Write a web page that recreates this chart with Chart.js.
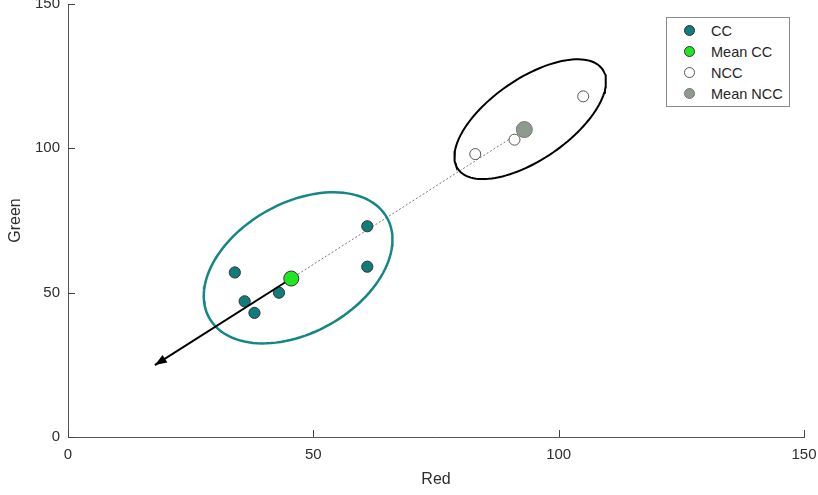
<!DOCTYPE html>
<html>
<head>
<meta charset="utf-8">
<script src="https://cdn.jsdelivr.net/npm/chart.js@4.4.1/dist/chart.umd.min.js"></script>
<style>
    html, body { margin: 0; padding: 0; background: #fff; }
    #wrap { position: relative; width: 818px; height: 495px; }
    #legend {
        position: absolute; left: 666px; top: 17px; width: 122px; height: 88px;
        border: 1px solid #8a8a8a; background: #fff;
        font-family: 'Liberation Sans', Arial, sans-serif; font-size: 14.5px; color: #262626;
    }
    #legend .row { position: absolute; left: 0; height: 20px; line-height: 20px; }
    #legend .dot { position: absolute; left: 17px; top: 4px; width: 11px; height: 11px; border-radius: 50%; box-sizing: border-box; border: 1px solid #333; }
    #legend .txt { position: absolute; left: 44px; white-space: nowrap; }
</style>
</head>
<body>
<div id="wrap">
    <canvas id="chart" width="818" height="495"></canvas>
    <div id="legend"></div>
</div>
<script>
// Data (Red / Green values)
const ccRed = [34, 36, 38, 43, 61, 61];
const ccGreen = [57, 47, 43, 50, 73, 59];
const nccRed = [83, 91, 105];
const nccGreen = [98, 103, 118];
const meanCC = [45.5, 54.9];
const meanNCC = [93, 106.5];
const arrowTip = [17.7, 24.9];

// ellipses: centre x, centre y, semi-axis a, semi-axis b, angle (deg), in data units
const ccEllipse = [46.9, 58.6, 27.8, 16.8, 65];
const nccEllipse = [94.2, 110.1, 23.6, 10.6, 57.8];

const axisTicks = [0, 50, 100, 150];
const legendLabels = ['CC', 'Mean CC', 'NCC', 'Mean NCC'];
const legendColors = ['#107c7c', '#22e622', '#ffffff', '#8e9a8e'];

const textColor = '#2e2e2e';
const fontFamily = "'Liberation Sans', Arial, sans-serif";

function toPoints(xs, ys) {
    return xs.map((x, i) => ({ x: x, y: ys[i] }));
}

function ellipsePoints(e) {
    const [cx, cy, a, b, deg] = e;
    const th = deg * Math.PI / 180;
    const pts = [];
    for (let i = 0; i <= 120; i++) {
        const t = i / 120 * 2 * Math.PI;
        pts.push({
            x: cx + a * Math.cos(t) * Math.cos(th) - b * Math.sin(t) * Math.sin(th),
            y: cy + a * Math.cos(t) * Math.sin(th) + b * Math.sin(t) * Math.cos(th)
        });
    }
    return pts;
}

// inward tick marks on both axes
const innerTicks = {
    id: 'innerTicks',
    afterDraw(chart) {
        const ctx = chart.ctx;
        const xs = chart.scales.x, ys = chart.scales.y;
        const area = chart.chartArea;
        ctx.save();
        ctx.strokeStyle = '#444';
        ctx.lineWidth = 1;
        ctx.beginPath();
        axisTicks.forEach(v => {
            const px = Math.round(xs.getPixelForValue(v)) + 0.5;
            ctx.moveTo(px, area.bottom);
            ctx.lineTo(px, area.bottom - 7);
            const py = Math.round(ys.getPixelForValue(v)) + 0.5;
            ctx.moveTo(area.left, py);
            ctx.lineTo(area.left + 7, py);
        });
        ctx.stroke();
        ctx.restore();
    }
};

// arrow head at the end of the arrow dataset
const arrowHead = {
    id: 'arrowHead',
    afterDatasetDraw(chart, args) {
        if (chart.data.datasets[args.index].label !== 'arrow') return;
        const pts = args.meta.data;
        const p0 = pts[0], p1 = pts[1];
        const ang = Math.atan2(p1.y - p0.y, p1.x - p0.x);
        const len = 12, half = 4.5;
        const ctx = chart.ctx;
        ctx.save();
        ctx.translate(p1.x, p1.y);
        ctx.rotate(ang);
        ctx.fillStyle = '#000';
        ctx.beginPath();
        ctx.moveTo(0, 0);
        ctx.lineTo(-len, -half);
        ctx.lineTo(-len, half);
        ctx.closePath();
        ctx.fill();
        ctx.restore();
    }
};

new Chart(document.getElementById('chart'), {
    type: 'scatter',
    data: {
        datasets: [
            {
                label: 'CC ellipse',
                data: ellipsePoints(ccEllipse),
                showLine: true, pointRadius: 0, borderColor: '#148686', borderWidth: 2.5,
                order: 9
            },
            {
                label: 'NCC ellipse',
                data: ellipsePoints(nccEllipse),
                showLine: true, pointRadius: 0, borderColor: '#000', borderWidth: 2,
                order: 9
            },
            {
                label: 'link',
                data: [{ x: meanCC[0], y: meanCC[1] }, { x: meanNCC[0], y: meanNCC[1] }],
                showLine: true, pointRadius: 0, borderColor: '#555', borderWidth: 0.8,
                borderDash: [2, 2], order: 8
            },
            {
                label: 'CC',
                data: toPoints(ccRed, ccGreen),
                pointRadius: 5.6, backgroundColor: legendColors[0], borderColor: '#333',
                borderWidth: 1, order: 7
            },
            {
                label: 'arrow',
                data: [{ x: meanCC[0], y: meanCC[1] }, { x: arrowTip[0], y: arrowTip[1] }],
                showLine: true, pointRadius: 0, borderColor: '#000', borderWidth: 2,
                order: 6
            },
            {
                label: 'NCC',
                data: toPoints(nccRed, nccGreen),
                pointRadius: 5.5, backgroundColor: legendColors[2], borderColor: '#555',
                borderWidth: 1, order: 5
            },
            {
                label: 'Mean CC',
                data: [{ x: meanCC[0], y: meanCC[1] }],
                pointRadius: 7.5, backgroundColor: legendColors[1], borderColor: '#333',
                borderWidth: 1, order: 4
            },
            {
                label: 'Mean NCC',
                data: [{ x: meanNCC[0], y: meanNCC[1] }],
                pointRadius: 8, backgroundColor: legendColors[3], borderColor: '#777',
                borderWidth: 1, order: 3
            }
        ]
    },
    options: {
        responsive: false,
        animation: false,
        events: [],
        layout: { autoPadding: false, padding: { top: 4, right: 14, left: 0, bottom: 0 } },
        plugins: {
            legend: { display: false },
            tooltip: { enabled: false }
        },
        scales: {
            x: {
                type: 'linear', min: 0, max: 150,
                afterBuildTicks: s => { s.ticks = axisTicks.map(v => ({ value: v })); },
                afterFit: s => { s.height = 58; s.paddingLeft = 0; s.paddingRight = 0; },
                grid: { display: false, drawTicks: false },
                border: { display: true, color: '#555', width: 1 },
                ticks: { padding: 9, color: textColor, font: { family: fontFamily, size: 15 } },
                title: {
                    display: true, text: 'Red', color: textColor,
                    font: { family: fontFamily, size: 16 }, padding: { top: 0, bottom: 6 }
                }
            },
            y: {
                type: 'linear', min: 0, max: 150,
                afterBuildTicks: s => { s.ticks = axisTicks.map(v => ({ value: v })); },
                afterFit: s => { s.width = 68; s.paddingTop = 0; s.paddingBottom = 0; },
                grid: { display: false, drawTicks: false },
                border: { display: true, color: '#555', width: 1 },
                ticks: { padding: 8, color: textColor, font: { family: fontFamily, size: 15 } },
                title: {
                    display: true, text: 'Green', color: textColor,
                    font: { family: fontFamily, size: 16 }, padding: { top: 6, bottom: 0 }
                }
            }
        }
    },
    plugins: [innerTicks, arrowHead]
});

// HTML legend
const legendBox = document.getElementById('legend');
legendLabels.forEach((lab, i) => {
    const row = document.createElement('div');
    row.className = 'row';
    row.style.top = (3 + i * 21) + 'px';
    const dot = document.createElement('span');
    dot.className = 'dot';
    dot.style.background = legendColors[i];
    if (i === 2) dot.style.borderColor = '#555';
    if (i === 3) dot.style.borderColor = '#777';
    const txt = document.createElement('span');
    txt.className = 'txt';
    txt.textContent = lab;
    row.appendChild(dot);
    row.appendChild(txt);
    legendBox.appendChild(row);
});
</script>
</body>
</html>
